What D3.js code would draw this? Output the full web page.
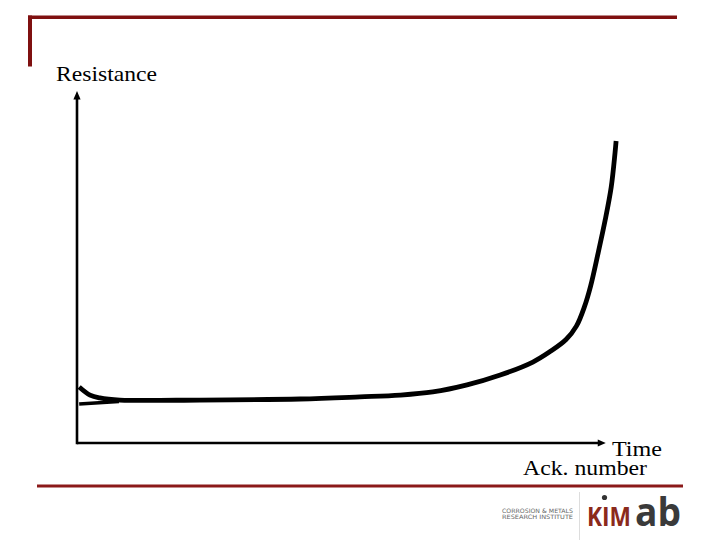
<!DOCTYPE html>
<html><head><meta charset="utf-8">
<script src="https://cdn.jsdelivr.net/npm/d3@7"></script>
<style>html,body{margin:0;padding:0;background:#fff;}svg{display:block;}</style>
</head><body>
<svg id="c" width="720" height="540"></svg>
<script>
// Data (time in % of span, resistance in % of axis height)
const curveTime = [0.4, 2.4, 4.2, 7.9, 22.6, 41.0, 52.0, 59.4, 65.4, 71.7, 77.8, 83.8, 86.9, 89.9, 91.8, 93.3, 94.4, 95.8, 97.1, 98.2, 98.9, 99.1];
const curveRes  = [15.9, 13.6, 12.8, 12.2, 12.2, 12.5, 13.1, 13.6, 14.5, 16.5, 19.3, 23.0, 25.9, 29.4, 33.2, 38.8, 44.5, 54.0, 63.4, 72.7, 82.4, 85.8];
const branchTime = [0.4, 7.7];
const branchRes  = [11.1, 11.8];
const axisLabels = ["Resistance", "Time", "Ack. number"];
const instituteLines = ["CORROSION & METALS", "RESEARCH  INSTITUTE"];

const svg = d3.select("#c");
const x = d3.scaleLinear().domain([0, 100]).range([77, 621]);
const y = d3.scaleLinear().domain([0, 100]).range([443, 91]);
const red = "#7f1010";

// slide frame lines
svg.append("rect").attr("x", 28).attr("y", 15.5).attr("width", 649).attr("height", 3.5).attr("fill", red);
svg.append("rect").attr("x", 28).attr("y", 15.5).attr("width", 4).attr("height", 51).attr("fill", red);
svg.append("rect").attr("x", 37).attr("y", 484.5).attr("width", 646).attr("height", 3).attr("fill", "#8b1a1a");

// axes
const xEnd = 97.2, yEnd = 100;
svg.append("line").attr("x1", x(0)).attr("y1", y(0)).attr("x2", x(xEnd) - 6).attr("y2", y(0))
  .attr("stroke", "#000").attr("stroke-width", 2.6);
svg.append("line").attr("x1", x(0)).attr("y1", y(0) + 1.3).attr("x2", x(0)).attr("y2", y(yEnd) + 6)
  .attr("stroke", "#000").attr("stroke-width", 2.6);
svg.append("path").attr("d", `M${x(xEnd)},${y(0)} L${x(xEnd)-8},${y(0)-3.6} L${x(xEnd)-8},${y(0)+3.6}Z`).attr("fill", "#000");
svg.append("path").attr("d", `M${x(0)},${y(yEnd)} L${x(0)-3.6},${y(yEnd)+8.5} L${x(0)+3.6},${y(yEnd)+8.5}Z`).attr("fill", "#000");

// curves
const line = d3.line().x(d => x(d[0])).y(d => y(d[1])).curve(d3.curveCatmullRom.alpha(0.5));
svg.append("path").datum(branchTime.map((t, i) => [t, branchRes[i]]))
  .attr("d", line).attr("fill", "none").attr("stroke", "#000").attr("stroke-width", 3.5);
svg.append("path").datum(curveTime.map((t, i) => [t, curveRes[i]]))
  .attr("d", line).attr("fill", "none").attr("stroke", "#000").attr("stroke-width", 4.8)
  .attr("stroke-linejoin", "round");

// labels
const serif = "'Liberation Serif','Times New Roman',serif";
svg.append("text").attr("x", 56).attr("y", 81).attr("font-family", serif).attr("font-size", 22)
  .attr("textLength", 101).attr("lengthAdjust", "spacingAndGlyphs").text(axisLabels[0]);
svg.append("text").attr("x", 612).attr("y", 456).attr("font-family", serif).attr("font-size", 22)
  .attr("textLength", 50).attr("lengthAdjust", "spacingAndGlyphs").text(axisLabels[1]);
svg.append("text").attr("x", 523).attr("y", 475).attr("font-family", serif).attr("font-size", 22)
  .attr("textLength", 124).attr("lengthAdjust", "spacingAndGlyphs").text(axisLabels[2]);

// logo
svg.append("line").attr("x1", 579.5).attr("y1", 492).attr("x2", 579.5).attr("y2", 540).attr("stroke", "#ddd").attr("stroke-width", 1);
instituteLines.forEach((t, i) => {
  svg.append("text").attr("x", 502).attr("y", 512.5 + i * 6.5).attr("font-family", "'DejaVu Sans',sans-serif")
    .attr("font-size", 6).attr("fill", "#666").attr("textLength", 71).attr("lengthAdjust", "spacingAndGlyphs").text(t);
});
svg.append("text").attr("x", 587).attr("y", 526).attr("font-family", "'Open Sans',sans-serif").attr("font-weight", 700)
  .attr("font-size", 27.5).attr("fill", "#8b2a1c").attr("textLength", 44).attr("lengthAdjust", "spacingAndGlyphs").text("KIM");
svg.append("circle").attr("cx", 604.5).attr("cy", 497.5).attr("r", 2.6).attr("fill", "#333");
svg.append("text").attr("x", 635).attr("y", 526).attr("font-family", "'Open Sans',sans-serif").attr("font-weight", 700)
  .attr("font-size", 39).attr("fill", "#3a3a3a").attr("textLength", 46).attr("lengthAdjust", "spacingAndGlyphs").text("ab");
</script>
</body></html>
